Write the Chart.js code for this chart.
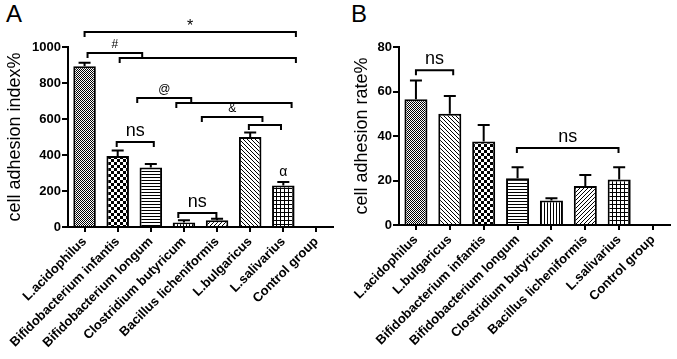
<!DOCTYPE html>
<html>
<head>
<meta charset="utf-8">
<script src="https://cdn.jsdelivr.net/npm/chart.js@4.4.0/dist/chart.umd.min.js"></script>
<style>
  body { margin: 0; background: #fff; width: 677px; height: 359px; overflow: hidden; position: relative; font-family: "Liberation Sans", Arial, sans-serif; }
  canvas { position: absolute; top: 0; }
  #chartA { left: 0; }
  #chartB { left: 340px; }
  .panel { position: absolute; top: 0px; font-size: 24px; color: #000; }
</style>
</head>
<body>
<div class="panel" style="left:6px">A</div>
<div class="panel" style="left:351px">B</div>
<canvas id="chartA" width="340" height="359"></canvas>
<canvas id="chartB" width="337" height="359"></canvas>
<script>
// ---------------- Data ----------------
const labelsA = ["L.acidophilus", "Bifidobacterium infantis", "Bifidobacterium longum", "Clostridium butyricum",
                 "Bacillus licheniformis", "L.bulgaricus", "L.salivarius", "Control group"];
const valuesA = [893, 395, 330, 25, 38, 500, 230, 0];
const errorsA = [20, 30, 20, 12, 8, 25, 20, 0];
const ticksA = [0, 200, 400, 600, 800, 1000];

const labelsB = ["L.acidophilus", "L.bulgaricus", "Bifidobacterium infantis", "Bifidobacterium longum",
                 "Clostridium butyricum", "Bacillus licheniformis", "L.salivarius", "Control group"];
const valuesB = [56.5, 50, 37.5, 21, 11, 17.5, 20.5, 0];
const errorsB = [8.5, 8, 7.5, 5, 1, 5, 5.5, 0];
const ticksB = [0, 20, 40, 60, 80];

// significance brackets: [from category, to category, level, text]
const bracketsA = [
  [0, 6.38, 1083, "*"],
  [0.09, 1.74, 967, "#"],
  [1.06, 6.38, 939, ""],
  [1.59, 3.22, 717, "@"],
  [2.77, 6.25, 689, ""],
  [3.54, 5.37, 611, "&"],
  [4.96, 5.93, 567, ""],
  [0.97, 2.09, 472, "ns"],
  [2.83, 3.98, 78, "ns"]
];
const notesA = [[6, 268, "α"]];

const bracketsB = [
  [0, 1.1, 69.6, "ns"],
  [2.98, 5.98, 34.6, "ns"]
];
const notesB = [];

// ---------------- Patterns ----------------
function makePattern(size, draw) {
  const c = document.createElement("canvas");
  c.width = size; c.height = size;
  const g = c.getContext("2d");
  g.fillStyle = "#fff";
  g.fillRect(0, 0, size, size);
  g.fillStyle = "#000";
  draw(g, size);
  return g.createPattern(c, "repeat");
}

const patterns = {
  "L.acidophilus": makePattern(2, g => { g.fillRect(0, 0, 1, 1); g.fillRect(1, 1, 1, 1); }),
  "Bifidobacterium infantis": makePattern(6, g => { g.fillRect(0, 0, 3, 3); g.fillRect(3, 3, 3, 3); }),
  "Bifidobacterium longum": makePattern(3, g => g.fillRect(0, 0, 3, 1)),
  "Clostridium butyricum": makePattern(3, g => g.fillRect(0, 0, 1, 3)),
  "Bacillus licheniformis": makePattern(4, g => { for (let i = 0; i < 4; i++) g.fillRect(3 - i, i, 1, 1); }),
  "L.bulgaricus": makePattern(4, g => { for (let i = 0; i < 4; i++) g.fillRect(i, i, 1, 1); }),
  "L.salivarius": makePattern(4, g => { g.fillRect(0, 0, 4, 1); g.fillRect(0, 0, 1, 4); }),
  "Control group": "#fff"
};

const FONT = "'Liberation Sans', Arial, sans-serif";
Chart.defaults.font.family = FONT;
Chart.defaults.font.size = 13;
Chart.defaults.font.weight = "bold";
Chart.defaults.color = "#000";

// ---------------- Plugins ----------------
const errorBars = {
  id: "errorBars",
  afterDatasetsDraw(chart, args, opts) {
    const { ctx } = chart;
    const y = chart.scales.y;
    const vals = chart.data.datasets[0].data;
    ctx.save();
    ctx.strokeStyle = "#000";
    ctx.lineWidth = 2;
    chart.getDatasetMeta(0).data.forEach((bar, i) => {
      if (!opts.errors[i]) return;
      const top = y.getPixelForValue(vals[i] + opts.errors[i]);
      ctx.beginPath();
      ctx.moveTo(bar.x, bar.y);
      ctx.lineTo(bar.x, top);
      ctx.moveTo(bar.x - 6, top);
      ctx.lineTo(bar.x + 6, top);
      ctx.stroke();
    });
    ctx.restore();
  }
};

const brackets = {
  id: "brackets",
  afterDraw(chart, args, opts) {
    const { ctx } = chart;
    const x = chart.scales.x, y = chart.scales.y;
    ctx.save();
    ctx.strokeStyle = "#000";
    ctx.fillStyle = "#000";
    ctx.lineWidth = 2;
    ctx.textAlign = "center";
    ctx.textBaseline = "bottom";
    opts.items.forEach(([from, to, level, text]) => {
      const x1 = x.getPixelForValue(from), x2 = x.getPixelForValue(to);
      const yl = y.getPixelForValue(level);
      ctx.beginPath();
      ctx.moveTo(x1, yl + 5);
      ctx.lineTo(x1, yl);
      ctx.lineTo(x2, yl);
      ctx.lineTo(x2, yl + 5);
      ctx.stroke();
      if (text) {
        ctx.font = (text === "ns" ? "18px " : text === "*" ? "16px " : "12px ") + FONT;
        ctx.fillText(text, (x1 + x2) / 2, text === "*" ? yl + 3 : yl - 2);
      }
    });
    opts.notes.forEach(([cat, level, text]) => {
      ctx.font = "14px " + FONT;
      ctx.fillText(text, x.getPixelForValue(cat), y.getPixelForValue(level));
    });
    ctx.restore();
  }
};

// ---------------- Chart builder ----------------
function buildChart(id, labels, values, errors, ticks, yTitle, box, items, notes) {
  const ctx = document.getElementById(id).getContext("2d");
  return new Chart(ctx, {
    type: "bar",
    data: {
      labels: labels,
      datasets: [{
        data: values,
        backgroundColor: labels.map(l => patterns[l]),
        borderColor: "#000",
        borderWidth: 2,
        barPercentage: 0.68,
        categoryPercentage: 1
      }]
    },
    options: {
      responsive: false,
      animation: false,
      layout: { padding: { top: box.top, right: box.right, left: 0, bottom: 0 } },
      plugins: {
        legend: { display: false },
        tooltip: { enabled: false },
        errorBars: { errors: errors },
        brackets: { items: items, notes: notes }
      },
      scales: {
        x: {
          offset: true,
          afterFit: s => { s.height = box.xHeight; },
          grid: { drawOnChartArea: false, offset: false, color: "#000", lineWidth: 2, tickLength: 5 },
          border: { color: "#000", width: 2 },
          ticks: { autoSkip: false, minRotation: 45, maxRotation: 45, color: "#000", padding: 2,
                   font: () => ({ family: FONT, size: 13, weight: "bold" }) }
        },
        y: {
          min: ticks[0], max: ticks[ticks.length - 1],
          afterFit: s => { s.width = box.yWidth; },
          afterBuildTicks: s => { s.ticks = ticks.map(v => ({ value: v })); },
          grid: { drawOnChartArea: false, color: "#000", lineWidth: 2, tickLength: 6 },
          border: { color: "#000", width: 2 },
          ticks: { color: "#000", padding: 1, callback: v => String(v),
                   font: () => ({ family: FONT, size: 13, weight: "bold" }) },
          title: { display: true, text: yTitle, color: "#000", padding: { top: box.titlePad, bottom: 0 },
                   font: { family: FONT, size: 18, weight: "normal" } }
        }
      }
    },
    plugins: [errorBars, brackets]
  });
}

buildChart("chartA", labelsA, valuesA, errorsA, ticksA, "cell adhesion index%",
           { top: 47, right: 7, xHeight: 132, yWidth: 68, titlePad: 4 }, bracketsA, notesA);
buildChart("chartB", labelsB, valuesB, errorsB, ticksB, "cell adhesion rate%",
           { top: 47, right: 7, xHeight: 134, yWidth: 59, titlePad: 11 }, bracketsB, notesB);
</script>
</body>
</html>
